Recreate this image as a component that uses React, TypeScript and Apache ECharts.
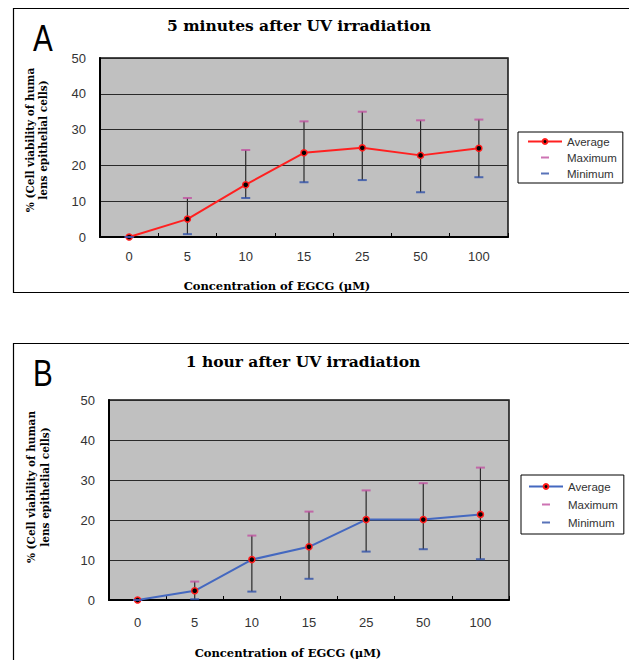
import React, { useEffect, useRef } from "react";
import * as echarts from "echarts";

const categories = ["0", "5", "10", "15", "25", "50", "100"];
const avgA = [0, 5.0, 14.6, 23.5, 24.9, 22.8, 24.8];
const maxA = [0, 10.9, 24.3, 32.3, 35.0, 32.6, 32.8];
const minA = [0, 0.8, 10.9, 15.3, 15.9, 12.5, 16.7];
const avgB = [0, 2.3, 10.1, 13.3, 20.1, 20.1, 21.4];
const maxB = [0, 4.6, 16.1, 22.1, 27.4, 29.2, 33.1];
const minB = [0, 0.2, 2.1, 5.3, 12.1, 12.7, 10.2];
const titleA = "5 minutes after UV irradiation";
const titleB = "1 hour after UV irradiation";
const xName = "Concentration of EGCG (\u03bcM)";
const yNameA = "% (Cell viability of huma\nlens epithelial cells)";
const yNameB = "% (Cell viability of human\nlens epithelial cells)";

const SANS = "Liberation Sans, Arial, sans-serif";
const SERIF = "DejaVu Serif, serif";
const capIcon = "path://M0,0h0.01v0.01h-0.01zM13,2h8v2h-8zM34,6h-0.01v-0.01h0.01z";

function panelSeries(idx: number, suffix: string, avg: number[], mx: number[], mn: number[], lineColor: string) {
  return [
    {
      type: "custom",
      name: "whisker" + suffix,
      xAxisIndex: idx,
      yAxisIndex: idx,
      silent: true,
      z: 1,
      data: categories.map((_, k) => [k, mn[k], mx[k]]),
      encode: { x: 0, y: [1, 2] },
      renderItem: (params: any, api: any) => {
        const lo = api.coord([api.value(0), api.value(1)]);
        const hi = api.coord([api.value(0), api.value(2)]);
        return {
          type: "line",
          shape: { x1: lo[0], y1: lo[1], x2: hi[0], y2: hi[1] },
          style: { stroke: "#2a2a2a", lineWidth: 1.2 },
        };
      },
    },
    {
      type: "line",
      name: "Average" + suffix,
      xAxisIndex: idx,
      yAxisIndex: idx,
      z: 3,
      data: avg,
      symbol: "circle",
      symbolSize: 6,
      lineStyle: { color: lineColor, width: 2 },
      itemStyle: { color: "#000", borderColor: "#ff1a1a", borderWidth: 1.5 },
    },
    {
      type: "scatter",
      name: "Maximum" + suffix,
      xAxisIndex: idx,
      yAxisIndex: idx,
      z: 4,
      data: mx,
      symbol: "rect",
      symbolSize: [9, 2],
      itemStyle: { color: "#c050a0" },
    },
    {
      type: "scatter",
      name: "Minimum" + suffix,
      xAxisIndex: idx,
      yAxisIndex: idx,
      z: 4,
      data: mn,
      symbol: "rect",
      symbolSize: [9, 2],
      itemStyle: { color: "#3050a8" },
    },
  ];
}

function xAxisCfg(idx: number, labelMargin: number, nameGap: number, shift: number) {
  return {
    type: "category",
    gridIndex: idx,
    data: categories,
    boundaryGap: true,
    axisLine: { show: true, lineStyle: { color: "#000", width: 2 } },
    axisTick: { show: true, inside: true, length: 4, lineStyle: { color: "#000", width: 1 } },
    axisLabel: { color: "#333", fontSize: 13, fontFamily: SANS, margin: labelMargin },
    name: xName,
    nameLocation: "middle",
    nameGap,
    nameTextStyle: {
      fontFamily: SERIF,
      fontWeight: "bold",
      fontSize: 11.5,
      color: "#000",
      padding: [0, shift, 0, 0],
    },
  };
}

function yAxisCfg(idx: number) {
  return {
    type: "value",
    gridIndex: idx,
    min: 0,
    max: 50,
    interval: 10,
    axisLine: { show: true, lineStyle: { color: "#000", width: 2 } },
    axisTick: { show: false },
    splitLine: { show: true, lineStyle: { color: "#2a2a2a", width: 1 } },
    axisLabel: { color: "#333", fontSize: 13, fontFamily: SANS, margin: 14 },
  };
}

function legendCfg(suffix: string, left: number, top: number, gap: number, padding: number[]) {
  return {
    orient: "vertical",
    left,
    top,
    itemGap: gap,
    itemWidth: 34,
    itemHeight: 6,
    padding,
    backgroundColor: "#fff",
    borderColor: "#000",
    borderWidth: 1,
    borderRadius: 0,
    textStyle: { fontFamily: SANS, fontSize: 11.5, color: "#333", lineHeight: 13 },
    formatter: (n: string) => n.replace(suffix, ""),
    data: [
      { name: "Average" + suffix },
      { name: "Maximum" + suffix, icon: capIcon },
      { name: "Minimum" + suffix, icon: capIcon },
    ],
  };
}

export default function App() {
  const ref = useRef<HTMLDivElement>(null);
  useEffect(() => {
    if (!ref.current) return;
    const chart = echarts.init(ref.current, null, { renderer: "svg" });
    const option: any = {
      animation: false,
      backgroundColor: "#fff",
      title: [
        {
          text: titleA,
          left: 299,
          top: 17,
          textAlign: "center",
          padding: 0,
          textStyle: { fontFamily: SERIF, fontWeight: "bold", fontSize: 15.5, color: "#000" },
        },
        {
          text: titleB,
          left: 303,
          top: 353,
          textAlign: "center",
          padding: 0,
          textStyle: { fontFamily: SERIF, fontWeight: "bold", fontSize: 15.5, color: "#000" },
        },
      ],
      grid: [
        { left: 100, top: 58, width: 408, height: 179, show: true, backgroundColor: "#c0c0c0", borderColor: "#111", borderWidth: 1.5 },
        { left: 109, top: 400, width: 400, height: 201, show: true, backgroundColor: "#c0c0c0", borderColor: "#111", borderWidth: 1.5 },
      ],
      xAxis: [xAxisCfg(0, 13, 43, 54), xAxisCfg(1, 16, 47, 42)],
      yAxis: [yAxisCfg(0), yAxisCfg(1)],
      legend: [
        legendCfg(" A", 518, 132, 3, [3, 6, 3, 9]),
        legendCfg(" B", 521, 475, 5, [5, 6, 5, 7]),
      ],
      graphic: [
        { type: "rect", silent: true, shape: { x: 13.5, y: 8.5, width: 640, height: 284 }, style: { fill: "none", stroke: "#000", lineWidth: 1.2 } },
        { type: "rect", silent: true, shape: { x: 13.5, y: 343.5, width: 640, height: 400 }, style: { fill: "none", stroke: "#000", lineWidth: 1.2 } },
        { type: "text", x: 33, y: 38.5, scaleX: 0.8, style: { text: "A", fontFamily: SANS, fontSize: 37, fill: "#000", textAlign: "left", textVerticalAlign: "middle" } },
        { type: "text", x: 33, y: 373, scaleX: 0.8, style: { text: "B", fontFamily: SANS, fontSize: 37, fill: "#000", textAlign: "left", textVerticalAlign: "middle" } },
        { type: "text", x: 36, y: 140, rotation: Math.PI / 2, style: { text: yNameA, fontFamily: SERIF, fontWeight: "bold", fontSize: 10.5, lineHeight: 13, fill: "#000", textAlign: "center", textVerticalAlign: "middle" } },
        { type: "text", x: 38, y: 487, rotation: Math.PI / 2, style: { text: yNameB, fontFamily: SERIF, fontWeight: "bold", fontSize: 10.5, lineHeight: 14, fill: "#000", textAlign: "center", textVerticalAlign: "middle" } },
      ],
      series: [
        ...panelSeries(0, " A", avgA, maxA, minA, "#ff2020"),
        ...panelSeries(1, " B", avgB, maxB, minB, "#4468c0"),
      ],
    };
    chart.setOption(option);
    return () => chart.dispose();
  }, []);
  return (
    <div
      ref={ref}
      style={{ position: "absolute", left: 0, top: 0, width: 629, height: 660 }}
    />
  );
}
